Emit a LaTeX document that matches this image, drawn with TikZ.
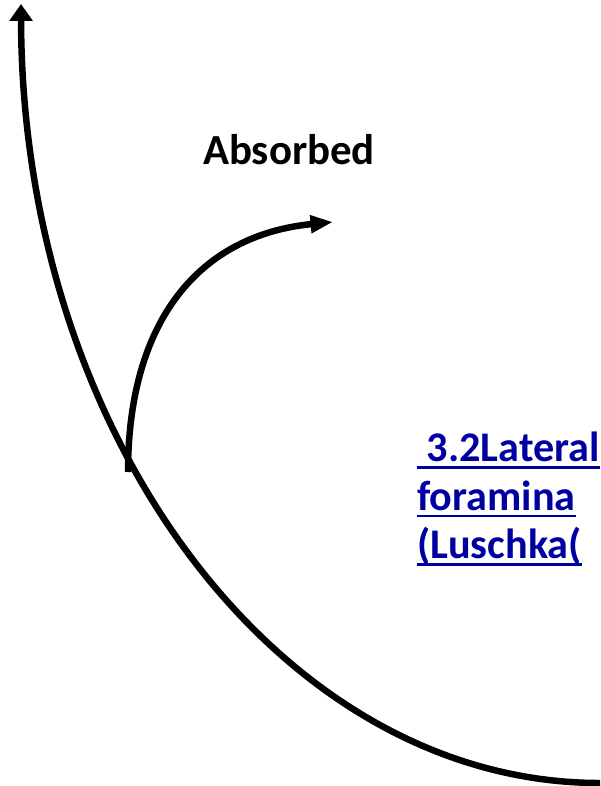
\documentclass[tikz,border=0pt]{standalone}
\usepackage{fontspec}
\setmainfont{Carlito}
\usepackage{tikz}
\usetikzlibrary{arrows.meta}
\definecolor{linkblue}{RGB}{0,0,160}
\newcommand{\linkline}[1]{\setbox0\hbox{#1}\rlap{\rule[-5pt]{\wd0}{2pt}}\box0}

\begin{document}
\begin{tikzpicture}[
    x=0.025cm, y=-0.025cm,
    curve/.style={line width=4.6pt, line cap=butt},
    label/.style={font=\fontsize{30.5}{34.5}\selectfont\bfseries, inner sep=0pt},
    link/.style={label, font=\fontsize{30}{34.5}\selectfont\bfseries, text=linkblue, align=left}
]
\useasboundingbox (0,0) rectangle (600,786);
\coordinate (bigstart) at (600,783);
\coordinate (bigtop) at (21,4);
\coordinate (fork) at (128,472);
\coordinate (absorbtip) at (333,222);
\node[label] (absorbed) at (289,150) {Absorbed};
\node[link, anchor=west] (lateral) at (417,499) {\linkline{\ 3.2Lateral}\\\linkline{foramina}\\\linkline{(Luschka(}};
\draw[curve, -{Triangle[length=12pt, width=16pt]}] (bigstart) .. controls (281,783) and (22,436) .. (bigtop);
\draw[curve, -{Triangle[length=16pt, width=12pt]}] (fork) .. controls (128,320) and (200,235) .. (absorbtip);
\end{tikzpicture}
\end{document}
